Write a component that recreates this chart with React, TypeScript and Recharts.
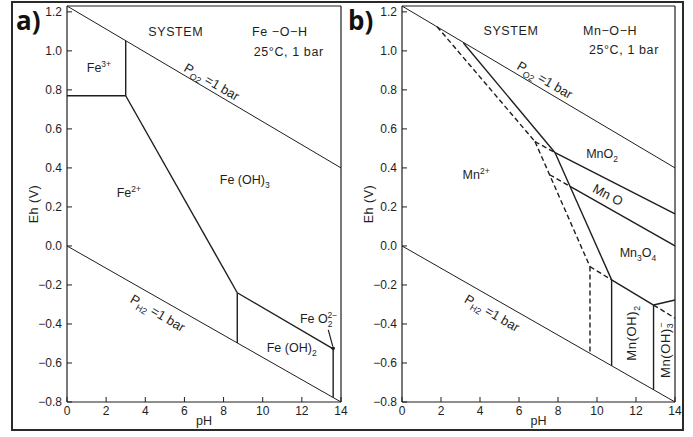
import React from 'react';
import { ComposedChart, Line, Scatter, XAxis, YAxis, ReferenceLine, ReferenceDot } from 'recharts';

type Pt = { ph: number; eh: number };
type Part = { t: string; s?: 'sub' | 'sup'; dx?: number };
type Lbl = { ph: number; eh: number; parts: Part[]; angle?: number; fs?: number; ls?: number };
type Series = { data: Pt[]; dashed?: boolean; w?: number };

const FONT = '"Liberation Sans", Arial, Helvetica, sans-serif';
const INK = '#1e1e1e';

// ---- axes ----
const phTicks = [0, 2, 4, 6, 8, 10, 12, 14];
const phInnerTicks = [2, 4, 6, 8, 10, 12];
const ehTicks = [-0.8, -0.6, -0.4, -0.2, 0, 0.2, 0.4, 0.6, 0.8, 1.0, 1.2];
const ehInnerTicks = [-0.6, -0.4, -0.2, 0, 0.2, 0.4, 0.6, 0.8, 1.0];
const phDomain: [number, number] = [0, 14];
const ehDomain: [number, number] = [-0.8, 1.23];

// ---- water stability limits ----
const o2Line: Pt[] = [{ ph: 0, eh: 1.23 }, { ph: 14, eh: 0.4 }];
const h2Line: Pt[] = [{ ph: 0, eh: 0 }, { ph: 14, eh: -0.8 }];

// ---- a) Fe-O-H ----
const fe3Fe2: Pt[] = [{ ph: 0, eh: 0.77 }, { ph: 3.0, eh: 0.77 }];
const fe3FeOH3: Pt[] = [{ ph: 3.0, eh: 0.77 }, { ph: 3.0, eh: 1.05 }];
const fe2FeOH3: Pt[] = [{ ph: 3.0, eh: 0.77 }, { ph: 8.7, eh: -0.24 }];
const fe2FeOH2: Pt[] = [{ ph: 8.7, eh: -0.24 }, { ph: 8.7, eh: -0.497 }];
const feOH3FeOH2: Pt[] = [{ ph: 8.7, eh: -0.24 }, { ph: 13.6, eh: -0.528 }];
const feOH2FeO2: Pt[] = [{ ph: 13.6, eh: -0.528 }, { ph: 13.6, eh: -0.777 }];

// ---- b) Mn-O-H ----
const mn2MnO2: Pt[] = [{ ph: 3.15, eh: 1.04 }, { ph: 7.85, eh: 0.478 }];
const mn2Mn3O4: Pt[] = [{ ph: 7.85, eh: 0.478 }, { ph: 10.75, eh: -0.174 }];
const mnO2MnO: Pt[] = [{ ph: 7.85, eh: 0.478 }, { ph: 14, eh: 0.165 }];
const mnOMn3O4: Pt[] = [{ ph: 8.62, eh: 0.305 }, { ph: 14, eh: 0.0 }];
const mn3O4MnOH2: Pt[] = [{ ph: 10.75, eh: -0.174 }, { ph: 12.9, eh: -0.303 }];
const mn3O4MnOH3: Pt[] = [{ ph: 12.9, eh: -0.303 }, { ph: 14, eh: -0.277 }];
const mn2MnOH2: Pt[] = [{ ph: 10.75, eh: -0.174 }, { ph: 10.75, eh: -0.614 }];
const mnOH2MnOH3: Pt[] = [{ ph: 12.9, eh: -0.303 }, { ph: 12.9, eh: -0.737 }];
// metastable (dashed)
const dMn2MnO2: Pt[] = [{ ph: 1.8, eh: 1.124 }, { ph: 6.82, eh: 0.535 }];
const dMnO2MnO: Pt[] = [{ ph: 6.82, eh: 0.535 }, { ph: 7.85, eh: 0.478 }];
const dMn2Mn3O4: Pt[] = [{ ph: 6.82, eh: 0.535 }, { ph: 9.64, eh: -0.106 }];
const dMnOMn3O4: Pt[] = [{ ph: 7.57, eh: 0.365 }, { ph: 8.62, eh: 0.305 }];
const dMn3O4MnOH2: Pt[] = [{ ph: 9.64, eh: -0.106 }, { ph: 10.75, eh: -0.174 }];
const dMn2MnOH2: Pt[] = [{ ph: 9.64, eh: -0.106 }, { ph: 9.64, eh: -0.551 }];
const dMn3O4MnOH3: Pt[] = [{ ph: 12.9, eh: -0.303 }, { ph: 14, eh: -0.37 }];

// ---- labels ----
const po2: Part[] = [{ t: 'P' }, { t: 'O', s: 'sub' }, { t: '2', s: 'sub' }, { t: ' =1 bar' }];
const ph2: Part[] = [{ t: 'P' }, { t: 'H', s: 'sub' }, { t: '2', s: 'sub' }, { t: ' =1 bar' }];

const labelsA: Lbl[] = [
  { ph: 5.56, eh: 1.097, parts: [{ t: 'SYSTEM' }], ls: 0.6 },
  { ph: 10.87, eh: 1.097, parts: [{ t: 'Fe −O−H' }], ls: 0.6 },
  { ph: 11.33, eh: 0.995, parts: [{ t: '25°C, 1 bar' }], ls: 0.6 },
  { ph: 1.63, eh: 0.913, parts: [{ t: 'Fe' }, { t: '3+', s: 'sup' }] },
  { ph: 3.16, eh: 0.272, parts: [{ t: 'Fe' }, { t: '2+', s: 'sup' }] },
  { ph: 9.08, eh: 0.338, parts: [{ t: 'Fe (OH)' }, { t: '3', s: 'sub' }] },
  { ph: 7.4, eh: 0.841, parts: po2, angle: 30, fs: 13 },
  { ph: 4.64, eh: -0.344, parts: ph2, angle: 30, fs: 13 },
  { ph: 11.48, eh: -0.523, parts: [{ t: 'Fe (OH)' }, { t: '2', s: 'sub' }] },
  { ph: 12.85, eh: -0.374, parts: [{ t: 'Fe O' }, { t: '2', s: 'sub' }, { t: '2−', s: 'sup', dx: -5 }] },
];

const labelsB: Lbl[] = [
  { ph: 5.59, eh: 1.103, parts: [{ t: 'SYSTEM' }], ls: 0.6 },
  { ph: 10.67, eh: 1.103, parts: [{ t: 'Mn−O−H' }], ls: 0.6 },
  { ph: 11.38, eh: 1.005, parts: [{ t: '25°C, 1 bar' }], ls: 0.6 },
  { ph: 7.33, eh: 0.851, parts: po2, angle: 30, fs: 13 },
  { ph: 10.26, eh: 0.472, parts: [{ t: 'MnO' }, { t: '2', s: 'sub' }] },
  { ph: 10.56, eh: 0.262, parts: [{ t: 'Mn O' }], angle: 28, fs: 13 },
  { ph: 3.8, eh: 0.364, parts: [{ t: 'Mn' }, { t: '2+', s: 'sup' }] },
  { ph: 12.1, eh: -0.036, parts: [{ t: 'Mn' }, { t: '3', s: 'sub' }, { t: 'O' }, { t: '4', s: 'sub' }] },
  { ph: 11.79, eh: -0.446, parts: [{ t: 'Mn(OH)' }, { t: '2', s: 'sub' }], angle: -90, fs: 13, ls: 0.6 },
  { ph: 13.49, eh: -0.533, parts: [{ t: 'Mn(OH)' }, { t: '3', s: 'sub' }, { t: '−', s: 'sup', dx: -5 }], angle: -90, fs: 13, ls: 0.6 },
  { ph: 4.62, eh: -0.344, parts: ph2, angle: 30, fs: 13 },
];

const seriesA: Series[] = [
  { data: o2Line, w: 1 },
  { data: h2Line, w: 1 },
  { data: fe3Fe2 },
  { data: fe3FeOH3 },
  { data: fe2FeOH3 },
  { data: fe2FeOH2 },
  { data: feOH3FeOH2 },
  { data: feOH2FeO2 },
];

const seriesB: Series[] = [
  { data: o2Line, w: 1 },
  { data: h2Line, w: 1 },
  { data: mn2MnO2 },
  { data: mn2Mn3O4 },
  { data: mnO2MnO },
  { data: mnOMn3O4 },
  { data: mn3O4MnOH2 },
  { data: mn3O4MnOH3 },
  { data: mn2MnOH2 },
  { data: mnOH2MnOH3 },
  { data: dMn2MnO2, dashed: true },
  { data: dMnO2MnO, dashed: true },
  { data: dMn2Mn3O4, dashed: true },
  { data: dMnOMn3O4, dashed: true },
  { data: dMn3O4MnOH2, dashed: true },
  { data: dMn2MnOH2, dashed: true },
  { data: dMn3O4MnOH3, dashed: true },
];

const fmtEh = (v: number) => {
  if (Math.abs(v) < 1e-9) return '0.0';
  return (v < 0 ? '−' : '') + Math.abs(v).toFixed(1);
};

function richSpans(parts: Part[], fs: number) {
  let cur = 0;
  return parts.map((p, i) => {
    const size = p.s ? fs * 0.68 : fs;
    const target = p.s === 'sub' ? fs * 0.28 : p.s === 'sup' ? -fs * 0.42 : 0;
    const dy = target - cur;
    cur = target;
    return (
      <tspan key={i} dy={dy} dx={p.dx ?? 0} fontSize={size}>
        {p.t}
      </tspan>
    );
  });
}

const LabelShape = (props: any) => {
  const { cx, cy, payload } = props;
  const l: Lbl = payload;
  if (cx == null || cy == null || !l) return <g />;
  const fs = l.fs ?? 12.5;
  const a = l.angle ?? 0;
  return (
    <text
      x={cx}
      y={cy + fs * 0.35}
      textAnchor="middle"
      fontSize={fs}
      fontFamily={FONT}
      fill={INK}
      letterSpacing={l.ls ?? 0}
      transform={a ? `rotate(${a} ${cx} ${cy})` : undefined}
    >
      {richSpans(l.parts, fs)}
    </text>
  );
};

const LeftTick = (p: any) => {
  const { x, y, payload } = p;
  const ax = x + 5;
  return (
    <g>
      <line x1={ax} y1={y} x2={ax + 5} y2={y} stroke={INK} strokeWidth={1} />
      <text x={x} y={y + 4} textAnchor="end" fontSize={12} fontFamily={FONT} fill={INK}>
        {fmtEh(payload.value)}
      </text>
    </g>
  );
};

const BottomTick = (p: any) => {
  const { x, y, payload } = p;
  const ay = y - 4;
  return (
    <g>
      <line x1={x} y1={ay} x2={x} y2={ay - 5} stroke={INK} strokeWidth={1} />
      <text x={x} y={y + 9} textAnchor="middle" fontSize={12} fontFamily={FONT} fill={INK}>
        {payload.value}
      </text>
    </g>
  );
};

const EmptyTick = () => <g />;

const EhTitle = (p: any) => {
  const vb = p && p.viewBox ? p.viewBox : null;
  if (!vb) return null;
  const cx = vb.x + vb.width - 33;
  const cy = vb.y + vb.height / 2;
  return (
    <text
      x={cx}
      y={cy + 4}
      textAnchor="middle"
      fontSize={12.5}
      fontFamily={FONT}
      fill={INK}
      letterSpacing={0.5}
      transform={`rotate(-90 ${cx} ${cy})`}
    >
      Eh  (V)
    </text>
  );
};

const PhTitle = (p: any) => {
  const vb = p && p.viewBox ? p.viewBox : null;
  if (!vb) return null;
  return (
    <text x={vb.x + vb.width / 2} y={vb.y + 23} textAnchor="middle" fontSize={12.5} fontFamily={FONT} fill={INK}>
      pH
    </text>
  );
};

const axisLineStyle = { stroke: INK, strokeWidth: 1.2 };

function Panel(props: {
  left: number;
  width: number;
  marginLeft: number;
  marginRight: number;
  series: Series[];
  labels: Lbl[];
  arrow?: boolean;
}) {
  const { left, width, marginLeft, marginRight, series, labels, arrow } = props;
  return (
    <div style={{ position: 'absolute', left, top: 0 }}>
      <ComposedChart
        width={width}
        height={437}
        margin={{ top: 6, right: marginRight, bottom: 5, left: marginLeft }}
      >
        <XAxis
          xAxisId="b"
          type="number"
          dataKey="ph"
          domain={phDomain}
          ticks={phTicks}
          interval={0}
          height={30}
          tickLine={false}
          tickSize={0}
          tickMargin={4}
          tick={BottomTick}
          axisLine={axisLineStyle}
          label={PhTitle}
        />
        <XAxis
          xAxisId="t"
          orientation="top"
          mirror
          type="number"
          dataKey="ph"
          domain={phDomain}
          ticks={phInnerTicks}
          interval={0}
          height={1}
          tickSize={5}
          tick={EmptyTick}
          tickLine={{ stroke: INK }}
          axisLine={axisLineStyle}
        />
        <YAxis
          yAxisId="l"
          type="number"
          dataKey="eh"
          domain={ehDomain}
          ticks={ehTicks}
          interval={0}
          width={40}
          tickLine={false}
          tickSize={0}
          tickMargin={5}
          tick={LeftTick}
          axisLine={axisLineStyle}
          label={EhTitle}
        />
        <YAxis
          yAxisId="r"
          orientation="right"
          mirror
          type="number"
          dataKey="eh"
          domain={ehDomain}
          ticks={ehInnerTicks}
          interval={0}
          width={1}
          tickSize={5}
          tick={EmptyTick}
          tickLine={{ stroke: INK }}
          axisLine={axisLineStyle}
        />
        {series.map((s, i) => (
          <Line
            key={i}
            xAxisId="b"
            yAxisId="l"
            data={s.data}
            dataKey="eh"
            type="linear"
            stroke={INK}
            strokeWidth={s.w ?? 1.4}
            strokeDasharray={s.dashed ? '5 3' : undefined}
            dot={false}
            activeDot={false}
            isAnimationActive={false}
            legendType="none"
          />
        ))}
        {arrow && (
          <ReferenceLine
            xAxisId="b"
            yAxisId="l"
            segment={[
              { x: 13.35, y: -0.43 },
              { x: 13.58, y: -0.515 },
            ]}
            stroke={INK}
            strokeWidth={1.2}
          />
        )}
        {arrow && (
          <ReferenceDot xAxisId="b" yAxisId="l" x={13.6} y={-0.525} r={1.8} fill={INK} stroke="none" />
        )}
        <Scatter
          xAxisId="b"
          yAxisId="l"
          data={labels}
          dataKey="eh"
          shape={LabelShape}
          isAnimationActive={false}
          legendType="none"
        />
      </ComposedChart>
    </div>
  );
}

export default function App() {
  return (
    <div
      style={{
        position: 'absolute',
        left: 0,
        top: 0,
        width: 693,
        height: 437,
        background: '#fff',
        overflow: 'hidden',
      }}
    >
      <Panel left={0} width={350} marginLeft={27} marginRight={9} series={seriesA} labels={labelsA} arrow />
      <Panel left={340} width={345} marginLeft={22} marginRight={10} series={seriesB} labels={labelsB} />
      <svg
        width={693}
        height={437}
        style={{ position: 'absolute', left: 0, top: 0, pointerEvents: 'none' }}
      >
        <rect x={12} y={2} width={671} height={428} fill="none" stroke="#2a2a2a" strokeWidth={2} />
        <text x={16} y={30} fontSize={26} fontWeight={700} fontFamily='"Open Sans", "Liberation Sans", sans-serif' fill="#111">
          a)
        </text>
        <text x={348} y={30} fontSize={26} fontWeight={700} fontFamily='"Open Sans", "Liberation Sans", sans-serif' fill="#111">
          b)
        </text>
      </svg>
    </div>
  );
}
